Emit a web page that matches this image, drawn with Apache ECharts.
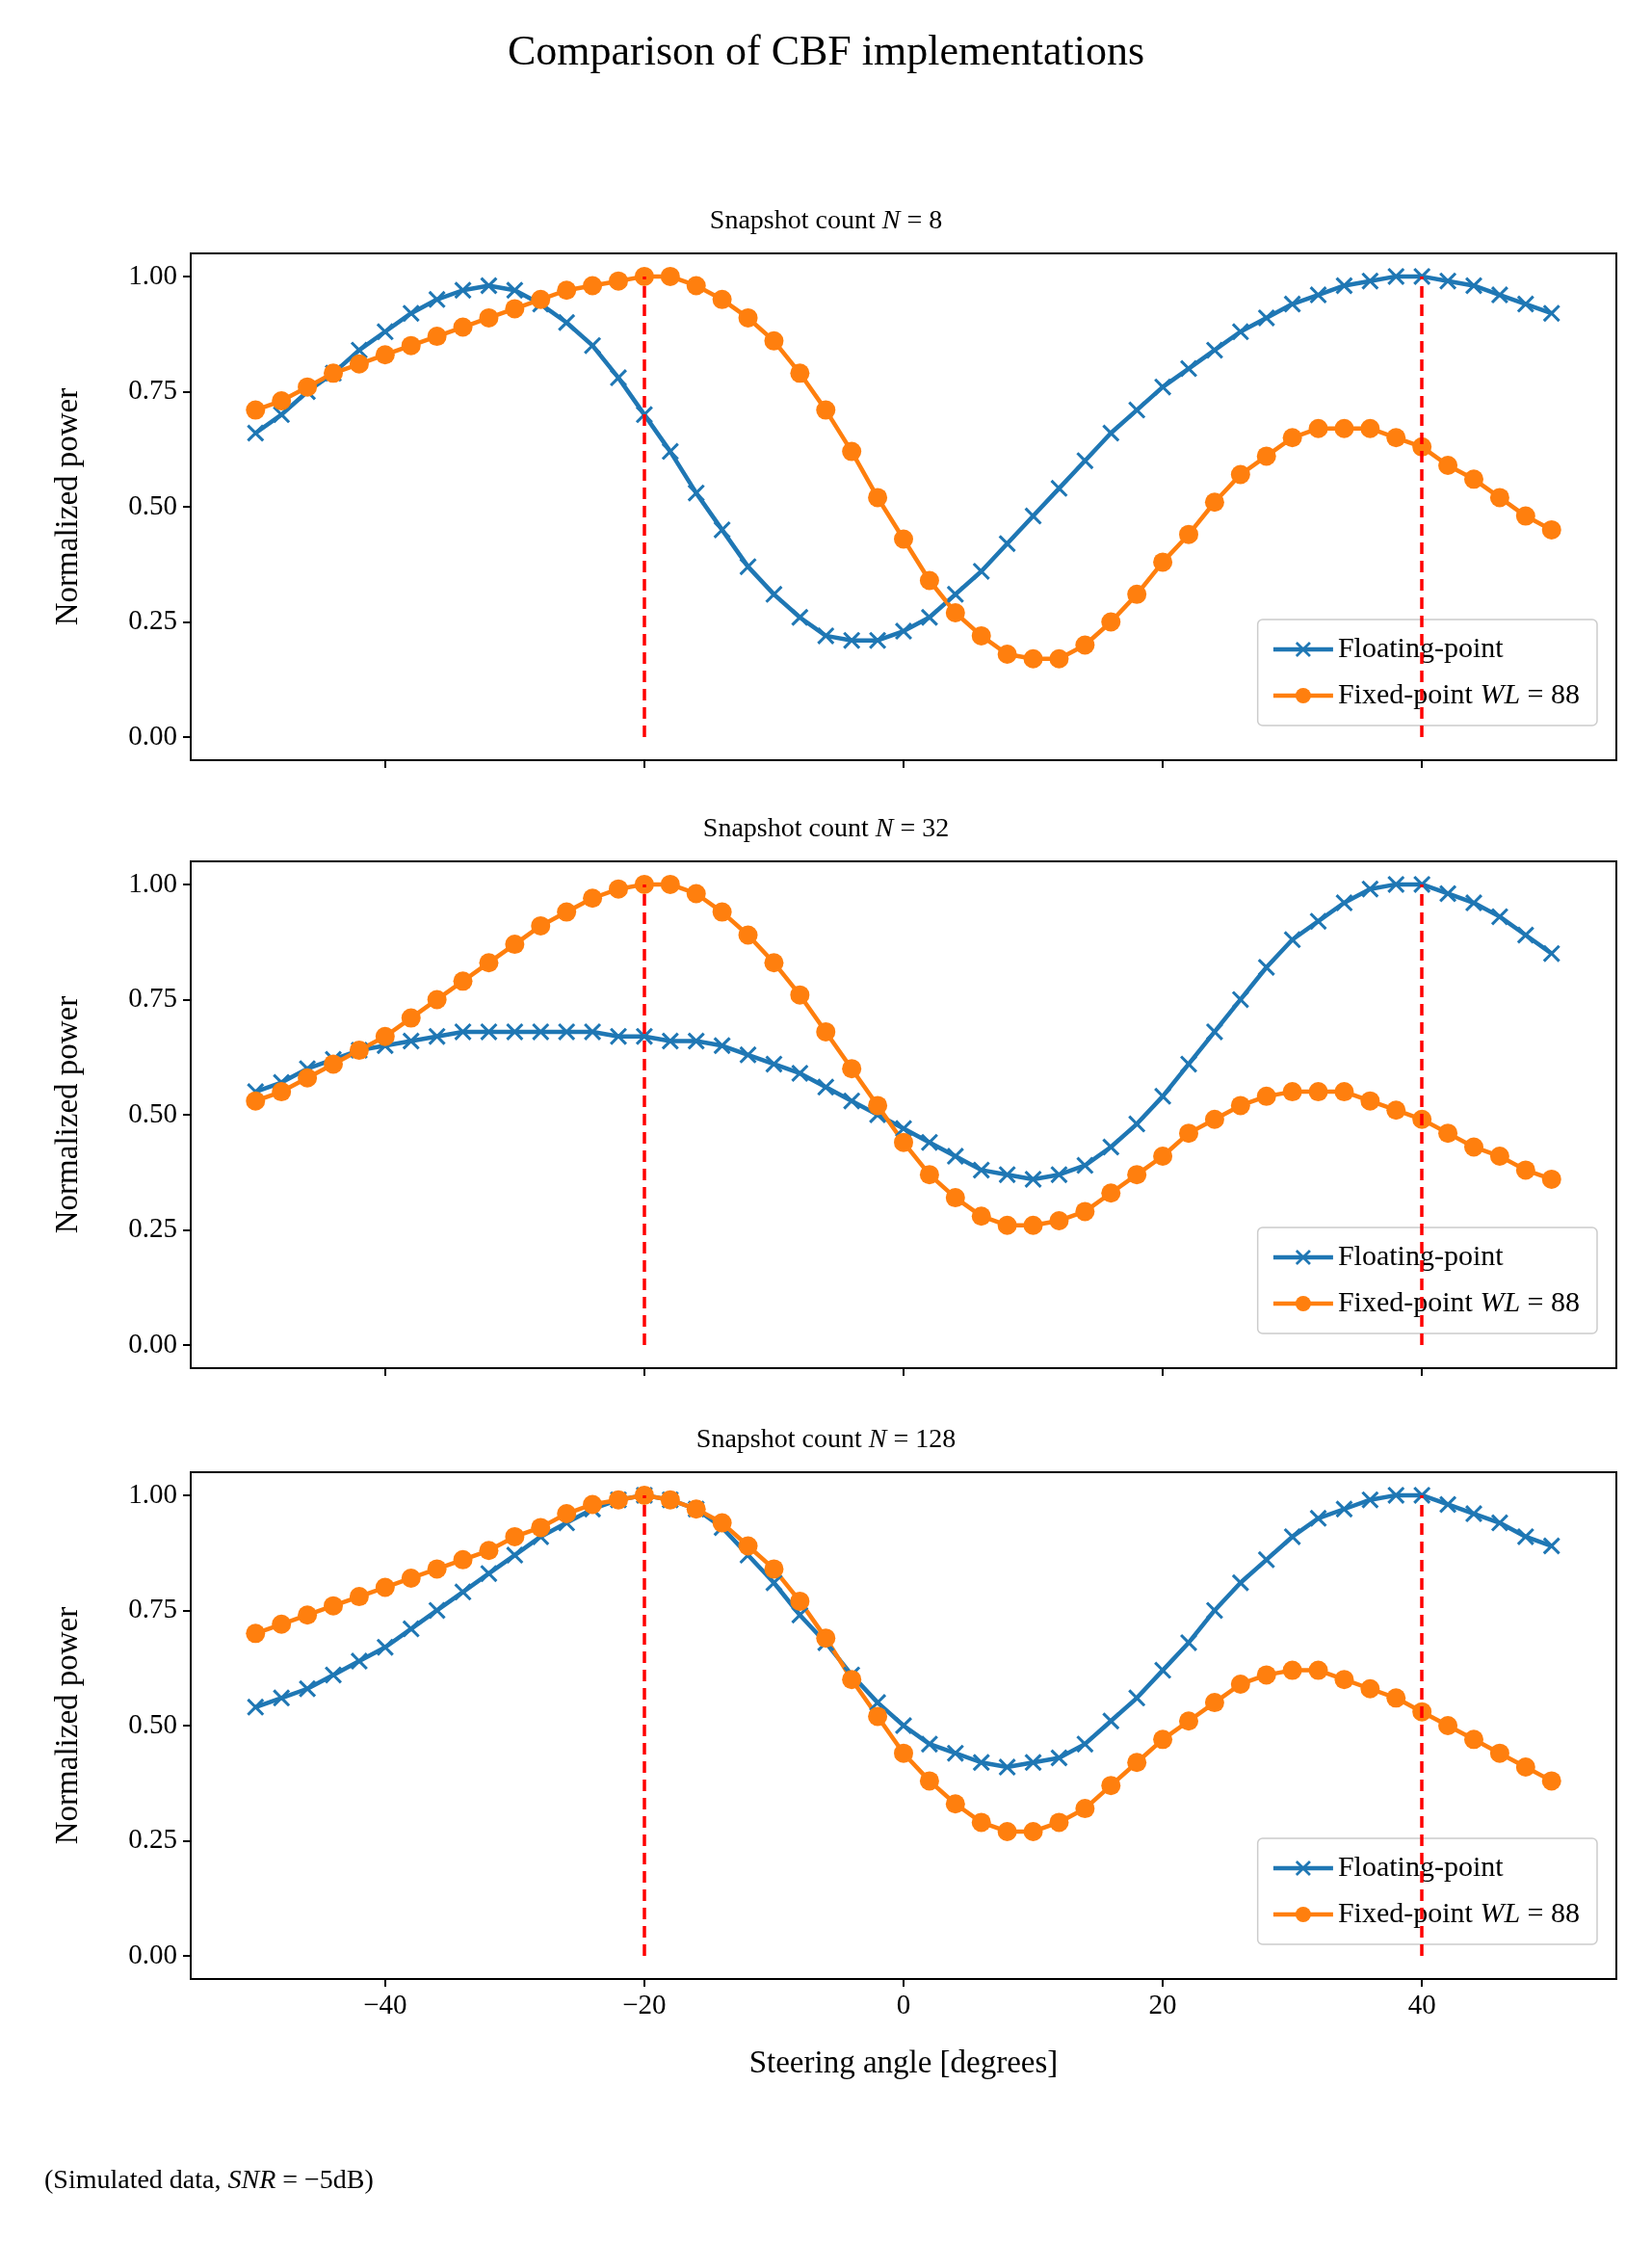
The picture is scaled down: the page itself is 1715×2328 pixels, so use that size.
<!DOCTYPE html>
<html>
<head>
<meta charset="utf-8">
<script src="https://cdn.jsdelivr.net/npm/echarts@6/dist/echarts.min.js"></script>
<style>html,body{margin:0;padding:0;background:#fff}#main{width:1715px;height:2328px}</style>
</head>
<body>
<div id="main"></div>
<script>
var angles = [-50,-48,-46,-44,-42,-40,-38,-36,-34,-32,-30,-28,-26,-24,-22,-20,-18,-16,-14,-12,-10,-8,-6,-4,-2,0,2,4,6,8,10,12,14,16,18,20,22,24,26,28,30,32,34,36,38,40,42,44,46,48,50];
var snapshots = [8, 32, 128];
var trueAngles = [-20, 40];
var yTicks = [0, 0.25, 0.5, 0.75, 1];
var xTicks = [-40, -20, 0, 20, 40];

var float8 = [0.66,0.70,0.75,0.79,0.84,0.88,0.92,0.95,0.97,0.98,0.97,0.94,0.90,0.85,0.78,0.70,0.62,0.53,0.45,0.37,0.31,0.26,0.22,0.21,0.21,0.23,0.26,0.31,0.36,0.42,0.48,0.54,0.60,0.66,0.71,0.76,0.80,0.84,0.88,0.91,0.94,0.96,0.98,0.99,1.00,1.00,0.99,0.98,0.96,0.94,0.92];
var fixed8 = [0.71,0.73,0.76,0.79,0.81,0.83,0.85,0.87,0.89,0.91,0.93,0.95,0.97,0.98,0.99,1.00,1.00,0.98,0.95,0.91,0.86,0.79,0.71,0.62,0.52,0.43,0.34,0.27,0.22,0.18,0.17,0.17,0.20,0.25,0.31,0.38,0.44,0.51,0.57,0.61,0.65,0.67,0.67,0.67,0.65,0.63,0.59,0.56,0.52,0.48,0.45];
var float32 = [0.55,0.57,0.60,0.62,0.64,0.65,0.66,0.67,0.68,0.68,0.68,0.68,0.68,0.68,0.67,0.67,0.66,0.66,0.65,0.63,0.61,0.59,0.56,0.53,0.50,0.47,0.44,0.41,0.38,0.37,0.36,0.37,0.39,0.43,0.48,0.54,0.61,0.68,0.75,0.82,0.88,0.92,0.96,0.99,1.00,1.00,0.98,0.96,0.93,0.89,0.85];
var fixed32 = [0.53,0.55,0.58,0.61,0.64,0.67,0.71,0.75,0.79,0.83,0.87,0.91,0.94,0.97,0.99,1.00,1.00,0.98,0.94,0.89,0.83,0.76,0.68,0.60,0.52,0.44,0.37,0.32,0.28,0.26,0.26,0.27,0.29,0.33,0.37,0.41,0.46,0.49,0.52,0.54,0.55,0.55,0.55,0.53,0.51,0.49,0.46,0.43,0.41,0.38,0.36];
var float128 = [0.54,0.56,0.58,0.61,0.64,0.67,0.71,0.75,0.79,0.83,0.87,0.91,0.94,0.97,0.99,1.00,0.99,0.97,0.93,0.87,0.81,0.74,0.68,0.61,0.55,0.50,0.46,0.44,0.42,0.41,0.42,0.43,0.46,0.51,0.56,0.62,0.68,0.75,0.81,0.86,0.91,0.95,0.97,0.99,1.00,1.00,0.98,0.96,0.94,0.91,0.89];
var fixed128 = [0.70,0.72,0.74,0.76,0.78,0.80,0.82,0.84,0.86,0.88,0.91,0.93,0.96,0.98,0.99,1.00,0.99,0.97,0.94,0.89,0.84,0.77,0.69,0.60,0.52,0.44,0.38,0.33,0.29,0.27,0.27,0.29,0.32,0.37,0.42,0.47,0.51,0.55,0.59,0.61,0.62,0.62,0.60,0.58,0.56,0.53,0.50,0.47,0.44,0.41,0.38];

var floatSets = [float8, float32, float128];
var fixedSets = [fixed8, fixed32, fixed128];

var FONT = 'Liberation Serif';
var BLUE = '#1f77b4', ORANGE = '#ff7f0e';
var CROSS = 'path://M0,1.2L1.2,0L5,3.8L8.8,0L10,1.2L6.2,5L10,8.8L8.8,10L5,6.2L1.2,10L0,8.8L3.8,5Z';
var gridTops = [263, 894, 1528];
var gridH = 526;

function pairs(vals) {
  return angles.map(function (a, i) { return [a, vals[i]]; });
}
function minus(v) { return String(v).replace('-', '\u2212'); }
function richText(size) {
  return {
    r: { fontFamily: FONT, fontSize: size, fontWeight: 'normal', color: '#000' },
    i: { fontFamily: FONT, fontSize: size, fontWeight: 'normal', fontStyle: 'italic', color: '#000' }
  };
}

var grids = [], xAxes = [], yAxes = [], series = [], legends = [];
var titles = [{
  text: 'Comparison of CBF implementations', left: 'center', top: 28,
  textStyle: { fontFamily: FONT, fontSize: 44, fontWeight: 'normal', color: '#000' }
}];

snapshots.forEach(function (n, k) {
  var last = k === snapshots.length - 1;
  grids.push({ left: 198, width: 1480, top: gridTops[k], height: gridH, show: true, borderColor: '#000', borderWidth: 2, backgroundColor: 'transparent' });
  titles.push({
    text: '{r|Snapshot count }{i|N}{r| = ' + n + '}', left: 'center', top: gridTops[k] - 52,
    textStyle: { fontWeight: 'normal', rich: richText(28) }
  });
  xAxes.push({
    type: 'value', gridIndex: k, min: -55, max: 55,
    axisLine: { show: true, onZero: false, lineStyle: { color: '#000', width: 2 } },
    axisTick: { show: true, length: 8, customValues: xTicks, lineStyle: { color: '#000', width: 2 } },
    axisLabel: { show: last, customValues: xTicks, fontFamily: FONT, fontSize: 29, color: '#000', margin: 14, formatter: minus },
    splitLine: { show: false },
    name: last ? 'Steering angle [degrees]' : '', nameLocation: 'middle', nameGap: 72,
    nameTextStyle: { fontFamily: FONT, fontSize: 33, color: '#000' }
  });
  yAxes.push({
    type: 'value', gridIndex: k, min: -0.05, max: 1.05,
    axisLine: { show: true, onZero: false, lineStyle: { color: '#000', width: 2 } },
    axisTick: { show: true, length: 8, customValues: yTicks, lineStyle: { color: '#000', width: 2 } },
    axisLabel: { customValues: yTicks, fontFamily: FONT, fontSize: 29, color: '#000', margin: 14, formatter: function (v) { return v.toFixed(2); } },
    splitLine: { show: false },
    name: 'Normalized power', nameLocation: 'middle', nameGap: 110,
    nameTextStyle: { fontFamily: FONT, fontSize: 33, color: '#000' }
  });
  series.push({
    name: 'Floating-point', type: 'line', xAxisIndex: k, yAxisIndex: k,
    data: pairs(floatSets[k]), symbol: CROSS, symbolSize: 18, color: BLUE,
    lineStyle: { width: 4.5, color: BLUE }, itemStyle: { color: BLUE }, animation: false
  });
  series.push({
    name: 'Fixed-point WL = 88', type: 'line', xAxisIndex: k, yAxisIndex: k,
    data: pairs(fixedSets[k]), symbol: 'circle', symbolSize: 20, color: ORANGE,
    lineStyle: { width: 4.5, color: ORANGE }, itemStyle: { color: ORANGE }, animation: false,
    markLine: {
      silent: true, symbol: 'none', animation: false, label: { show: false },
      lineStyle: { type: [12, 7], color: '#ff0000', width: 3.5 },
      data: trueAngles.map(function (a) { return [{ coord: [a, 0] }, { coord: [a, 1] }]; })
    }
  });
  legends.push({
    right: 57, top: gridTops[k] + 380, orient: 'vertical', itemGap: 18,
    itemWidth: 62, itemHeight: 20, padding: [16, 18, 16, 14],
    lineStyle: { width: 4.5 },
    backgroundColor: 'rgba(255,255,255,0.8)', borderColor: '#cccccc', borderWidth: 1.5, borderRadius: 5,
    data: ['Floating-point', 'Fixed-point WL = 88'],
    formatter: function (name) {
      return name === 'Floating-point' ? '{r|Floating-point}' : '{r|Fixed-point }{i|WL}{r| = 88}';
    },
    textStyle: { rich: richText(30) }
  });
});

titles.push({
  text: '{r|(Simulated data, }{i|SNR}{r| = \u22125dB)}', left: 41, top: 2245,
  textStyle: { fontWeight: 'normal', rich: richText(28) }
});

var chart = echarts.init(document.getElementById('main'));
chart.setOption({
  backgroundColor: '#fff',
  animation: false,
  title: titles,
  legend: legends,
  grid: grids,
  xAxis: xAxes,
  yAxis: yAxes,
  series: series
});
</script>
</body>
</html>
